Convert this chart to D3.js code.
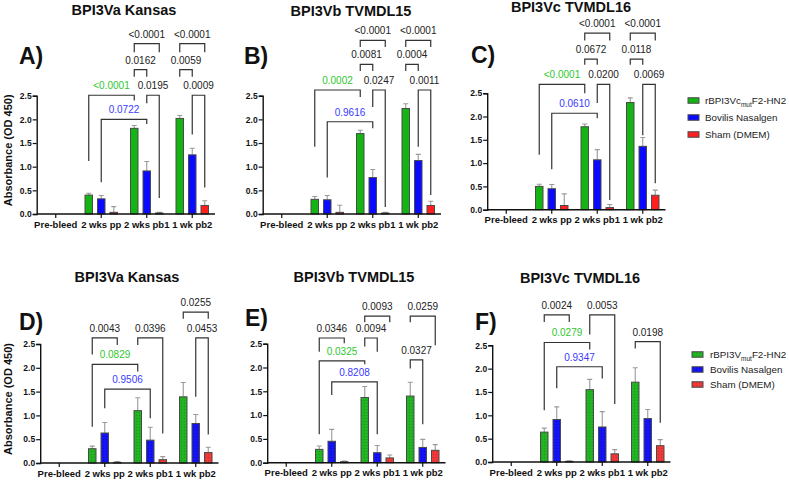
<!DOCTYPE html>
<html>
<head>
<meta charset="utf-8">
<script src="https://cdn.jsdelivr.net/npm/d3@7"></script>
<style>
  body { margin: 0; background: #fff; }
  svg { font-family: "Liberation Sans", Arial, sans-serif; }
</style>
</head>
<body>
<div id="chart"></div>
<script>
// categories
const groups = ["Pre-bleed", "2 wks pp", "2 wks pb1", "1 wk pb2"];
const seriesNames = ["Bovilis Nasalgen", "Sham (DMEM)"];
const yTicks = [0, 0.5, 1.0, 1.5, 2.0, 2.5];

// panel A - BPI3Va Kansas (top)
const aGreen = [0, 0.40, 1.81, 2.02], aGreenErr = [0, 0.04, 0.06, 0.06];
const aBlue = [0, 0.32, 0.91, 1.25], aBlueErr = [0, 0.07, 0.20, 0.14];
const aRed = [0, 0.035, 0.02, 0.18], aRedErr = [0, 0.12, 0.015, 0.10];
// panel B - BPI3Vb TVMDL15 (top)
const bGreen = [0, 0.31, 1.70, 2.23], bGreenErr = [0, 0.06, 0.07, 0.10];
const bBlue = [0, 0.30, 0.77, 1.13], bBlueErr = [0, 0.09, 0.17, 0.13];
const bRed = [0, 0.035, 0.02, 0.18], bRedErr = [0, 0.15, 0.015, 0.09];
// panel C - BPI3Vc TVMDL16 (top)
const cGreen = [0, 0.50, 1.78, 2.30], cGreenErr = [0, 0.045, 0.06, 0.10];
const cBlue = [0, 0.45, 1.07, 1.36], cBlueErr = [0, 0.09, 0.22, 0.19];
const cRed = [0, 0.09, 0.045, 0.31], cRedErr = [0, 0.25, 0.065, 0.11];
// panel D - BPI3Va Kansas (bottom)
const dGreen = [0, 0.30, 1.10, 1.39], dGreenErr = [0, 0.055, 0.27, 0.30];
const dBlue = [0, 0.63, 0.48, 0.83], dBlueErr = [0, 0.22, 0.27, 0.19];
const dRed = [0, 0.014, 0.07, 0.22], dRedErr = [0, 0.014, 0.063, 0.11];
// panel E - BPI3Vb TVMDL15 (bottom)
const eGreen = [0, 0.28, 1.37, 1.40], eGreenErr = [0, 0.07, 0.23, 0.29];
const eBlue = [0, 0.45, 0.21, 0.32], eBlueErr = [0, 0.25, 0.15, 0.17];
const eRed = [0, 0.021, 0.10, 0.26], eRedErr = [0, 0.014, 0.063, 0.12];
// panel F - BPI3Vc TVMDL16 (bottom)
const fGreen = [0, 0.64, 1.55, 1.71], fGreenErr = [0, 0.085, 0.22, 0.31];
const fBlue = [0, 0.91, 0.75, 0.93], fBlueErr = [0, 0.27, 0.33, 0.195];
const fRed = [0, 0.014, 0.175, 0.35], fRedErr = [0, 0.014, 0.09, 0.13];

// p-value brackets: [group1, series1, group2, series2, level, leg1 end, leg2 end, label, colour]
const aBrackets = [
  [2,0,2,2, 3.60, 3.42, 3.42, "<0.0001", "k"], [3,0,3,2, 3.60, 3.42, 3.42, "<0.0001", "k"],
  [2,0,2,1, 3.05, 2.90, 2.90, "0.0162", "k"], [3,0,3,1, 3.05, 2.90, 2.90, "0.0059", "k"],
  [1,0,2,0, 2.51, 1.12, 2.40, "<0.0001", "g"], [2,1,2,2, 2.51, 2.34, 0.34, "0.0195", "k"],
  [3,1,3,2, 2.51, 1.68, 0.56, "0.0009", "k"], [1,1,2,1, 2.00, 0.67, 1.90, "0.0722", "b"]
];
const bBrackets = [
  [2,0,2,2, 3.67, 3.53, 3.53, "<0.0001", "k"], [3,0,3,2, 3.67, 3.53, 3.53, "<0.0001", "k"],
  [2,0,2,1, 3.16, 3.02, 3.02, "0.0081", "k"], [3,0,3,1, 3.16, 3.02, 3.02, "0.0004", "k"],
  [1,0,2,0, 2.62, 1.42, 2.47, "0.0002", "g"], [2,1,2,2, 2.62, 2.26, 0.15, "0.0247", "k"],
  [3,1,3,2, 2.62, 1.42, 0.40, "0.0011", "k"], [1,1,2,1, 1.95, 0.77, 1.81, "0.9616", "b"]
];
const cBrackets = [
  [2,0,2,2, 3.79, 3.63, 3.63, "<0.0001", "k"], [3,0,3,2, 3.79, 3.63, 3.63, "<0.0001", "k"],
  [2,0,2,1, 3.23, 3.11, 3.11, "0.0672", "k"], [3,0,3,1, 3.23, 3.11, 3.11, "0.0118", "k"],
  [1,0,2,0, 2.69, 1.18, 2.50, "<0.0001", "g"], [2,1,2,2, 2.69, 2.29, 0.21, "0.0200", "k"],
  [3,1,3,2, 2.69, 1.60, 0.57, "0.0069", "k"], [1,1,2,1, 2.07, 0.87, 1.96, "0.0610", "b"]
];
const dBrackets = [
  [3,0,3,2, 3.17, 3.03, 3.03, "0.0255", "k"], [1,0,1,2, 2.63, 2.28, 2.48, "0.0043", "k"],
  [2,0,2,2, 2.63, 2.48, 0.62, "0.0396", "k"], [3,1,3,2, 2.63, 1.39, 0.60, "0.0453", "k"],
  [1,0,2,0, 2.07, 0.76, 1.92, "0.0829", "g"], [1,1,2,1, 1.55, 1.15, 0.94, "0.9506", "b"]
];
const eBrackets = [
  [2,0,2,2, 3.08, 2.95, 2.95, "0.0093", "k"], [3,0,3,2, 3.08, 2.95, 2.47, "0.0259", "k"],
  [1,0,1,2, 2.62, 2.33, 2.51, "0.0346", "k"], [2,0,2,1, 2.62, 2.44, 2.33, "0.0094", "k"],
  [1,0,2,0, 2.14, 0.60, 2.07, "0.0325", "g"], [3,0,3,1, 2.16, 1.98, 0.81, "0.0327", "k"],
  [1,1,2,1, 1.70, 1.42, 0.60, "0.8208", "b"]
];
const fBrackets = [
  [1,0,1,2, 3.15, 3.00, 3.00, "0.0024", "k"], [2,0,2,2, 3.15, 2.73, 1.24, "0.0053", "k"],
  [1,0,2,0, 2.56, 1.11, 2.41, "0.0279", "g"], [3,0,3,2, 2.58, 2.43, 0.84, "0.0198", "k"],
  [1,1,2,1, 2.04, 1.58, 1.79, "0.9347", "b"]
];

const barColors = ["#14b414", "#0a0aff", "#ff1f1f"];
const textColors = { k: "#222", g: "#2ec82e", b: "#3a3aff" };

const svg = d3.select("#chart").append("svg")
  .attr("width", 789)
  .attr("height", 480);

// dotted fills for the lower row
const defs = svg.append("defs");
const dotColors = ["#0a8a0a", "#0000c0", "#c01818"];
const baseDotted = ["#22b422", "#1414f5", "#f03a3a"];
baseDotted.forEach(function (c, i) {
  const p = defs.append("pattern")
    .attr("id", "dots" + i)
    .attr("patternUnits", "userSpaceOnUse")
    .attr("width", 3).attr("height", 3);
  p.append("rect").attr("width", 3).attr("height", 3).attr("fill", c);
  p.append("rect").attr("x", 1).attr("y", 1).attr("width", 1).attr("height", 1)
    .attr("fill", dotColors[i]).attr("opacity", 0.6);
});

const panels = [
  { letter: "A)", title: "BPI3Va Kansas", x0: 33, y0: 214, yTop: 95.7, tx: 124, ty: 15, lx: 19, ly: 64, ylab: true, dotted: false,
    vals: [aGreen, aBlue, aRed], errs: [aGreenErr, aBlueErr, aRedErr], brackets: aBrackets },
  { letter: "B)", title: "BPI3Vb TVMDL15", x0: 259, y0: 214, yTop: 95.7, tx: 351, ty: 16, lx: 244, ly: 64, ylab: false, dotted: false,
    vals: [bGreen, bBlue, bRed], errs: [bGreenErr, bBlueErr, bRedErr], brackets: bBrackets },
  { letter: "C)", title: "BPI3Vc TVMDL16", x0: 483.5, y0: 209.7, yTop: 93.2, tx: 571, ty: 12, lx: 471, ly: 63, ylab: false, dotted: false,
    vals: [cGreen, cBlue, cRed], errs: [cGreenErr, cBlueErr, cRedErr], brackets: cBrackets },
  { letter: "D)", title: "BPI3Va Kansas", x0: 36.5, y0: 463, yTop: 344, tx: 127, ty: 281.5, lx: 19, ly: 330, ylab: true, dotted: true,
    vals: [dGreen, dBlue, dRed], errs: [dGreenErr, dBlueErr, dRedErr], brackets: dBrackets },
  { letter: "E)", title: "BPI3Vb TVMDL15", x0: 263.5, y0: 462.7, yTop: 343.7, tx: 354, ty: 281.5, lx: 245, ly: 326, ylab: false, dotted: true,
    vals: [eGreen, eBlue, eRed], errs: [eGreenErr, eBlueErr, eRedErr], brackets: eBrackets },
  { letter: "F)", title: "BPI3Vc TVMDL16", x0: 488.5, y0: 462, yTop: 345.3, tx: 580, ty: 283, lx: 475, ly: 330, ylab: false, dotted: true,
    vals: [fGreen, fBlue, fRed], errs: [fGreenErr, fBlueErr, fRedErr], brackets: fBrackets }
];

const barW = 7.5, subStep = 12.5;

panels.forEach(function (p) {
  const g = svg.append("g");
  const x = d3.scaleBand().domain(groups).range([p.x0, p.x0 + 182]);
  const y = d3.scaleLinear().domain([0, 2.5]).range([p.y0, p.yTop]);
  const axisX = p.x0 + 3.7;
  const cx = function (gi, si) { return x(groups[gi]) + x.bandwidth() / 2 + (si - 1) * subStep; };

  // title and letter
  g.append("text").attr("x", p.tx).attr("y", p.ty).attr("text-anchor", "middle")
    .attr("font-size", 14.5).attr("font-weight", "bold").attr("fill", "#111").text(p.title);
  g.append("text").attr("x", p.lx).attr("y", p.ly)
    .attr("font-size", 23).attr("font-weight", "bold").attr("fill", "#111").text(p.letter);

  // bars
  const rows = [];
  p.vals.forEach(function (arr, si) {
    arr.forEach(function (v, gi) { rows.push({ gi: gi, si: si, v: v, e: p.errs[si][gi] }); });
  });
  const shown = rows.filter(function (d) { return d.v > 0; });

  g.selectAll(".err").data(shown).enter().append("path")
    .attr("class", "err")
    .attr("d", function (d) {
      const c = cx(d.gi, d.si), t = y(d.v + d.e);
      return "M" + c + "," + y(d.v) + "V" + t + "M" + (c - 2.5) + "," + t + "H" + (c + 2.5);
    })
    .attr("stroke", "#9a9a9a").attr("stroke-width", 1.1).attr("fill", "none");

  g.selectAll(".bar").data(shown).enter().append("rect")
    .attr("class", "bar")
    .attr("x", function (d) { return cx(d.gi, d.si) - barW / 2; })
    .attr("y", function (d) { return y(d.v); })
    .attr("width", barW)
    .attr("height", function (d) { return y(0) - y(d.v); })
    .attr("fill", function (d) { return p.dotted ? "url(#dots" + d.si + ")" : barColors[d.si]; })
    .attr("stroke", "#4a4a4a").attr("stroke-width", 1);

  // axes
  const yAxis = d3.axisLeft(y).tickValues(yTicks).tickFormat(d3.format(".1f")).tickSize(4).tickPadding(1);
  g.append("g").attr("transform", "translate(" + axisX + ",0)").call(yAxis)
    .call(function (s) {
      s.select(".domain").attr("stroke", "#111").attr("stroke-width", 1.4);
      s.selectAll(".tick line").attr("stroke", "#111").attr("stroke-width", 1.2);
      s.selectAll("text").attr("font-size", 8.5).attr("font-weight", "bold").attr("fill", "#111")
        .attr("font-family", "Liberation Sans, Arial, sans-serif");
    });

  const xAxis = d3.axisBottom(x).tickSize(4).tickPadding(3);
  const xa = g.append("g").attr("transform", "translate(0," + p.y0 + ")").call(xAxis);
  xa.select(".domain").remove();
  xa.append("line").attr("x1", axisX).attr("x2", p.x0 + 182).attr("stroke", "#111").attr("stroke-width", 1.4);
  xa.selectAll(".tick line").attr("stroke", "#111").attr("stroke-width", 1.2);
  xa.selectAll("text").attr("font-size", 9.5).attr("font-weight", "bold").attr("fill", "#111")
    .attr("font-family", "Liberation Sans, Arial, sans-serif");

  if (p.ylab) {
    g.append("text")
      .attr("transform", "translate(11.5," + ((p.y0 + p.yTop) / 2 - 4.5) + ") rotate(-90)")
      .attr("text-anchor", "middle").attr("font-size", 11).attr("font-weight", "bold").attr("fill", "#111")
      .text("Absorbance (OD 450)");
  }

  // significance brackets
  const br = g.selectAll(".br").data(p.brackets).enter().append("g").attr("class", "br");
  br.append("path")
    .attr("d", function (b) {
      const x1 = cx(b[0], b[1]), x2 = cx(b[2], b[3]);
      return "M" + x1 + "," + y(b[5]) + "V" + y(b[4]) + "H" + x2 + "V" + y(b[6]);
    })
    .attr("fill", "none").attr("stroke", "#333").attr("stroke-width", 1.2);
  br.append("text")
    .attr("x", function (b) { return (cx(b[0], b[1]) + cx(b[2], b[3])) / 2; })
    .attr("y", function (b) { return y(b[4]) - 6; })
    .attr("text-anchor", "middle").attr("font-size", 10)
    .attr("fill", function (b) { return textColors[b[8]]; })
    .text(function (b) { return b[7]; });
});

// legends
function legend(lx, ly, step, dotted, variant, tx) {
  const lg = svg.append("g").attr("transform", "translate(" + lx + "," + ly + ")");
  [0, 1, 2].forEach(function (i) {
    lg.append("rect").attr("x", 0).attr("y", i * step - 2.75).attr("width", 11).attr("height", 5.5)
      .attr("fill", dotted ? "url(#dots" + i + ")" : barColors[i]).attr("stroke", "#4a4a4a").attr("stroke-width", 1);
    const t = lg.append("text").attr("x", tx).attr("y", i * step + 3.5)
      .attr("font-size", 9.8).attr("fill", "#222");
    if (i === 0) {
      t.append("tspan").text(variant);
      t.append("tspan").attr("font-size", 6.5).attr("dy", 2.5).text("mut");
      t.append("tspan").attr("dy", -2.5).text("F2-HN2");
    } else {
      t.text(seriesNames[i - 1]);
    }
  });
}
legend(688, 100.5, 17, false, "rBPI3Vc", 17);
legend(692, 354.5, 15, true, "rBPI3V", 18);
</script>
</body>
</html>
